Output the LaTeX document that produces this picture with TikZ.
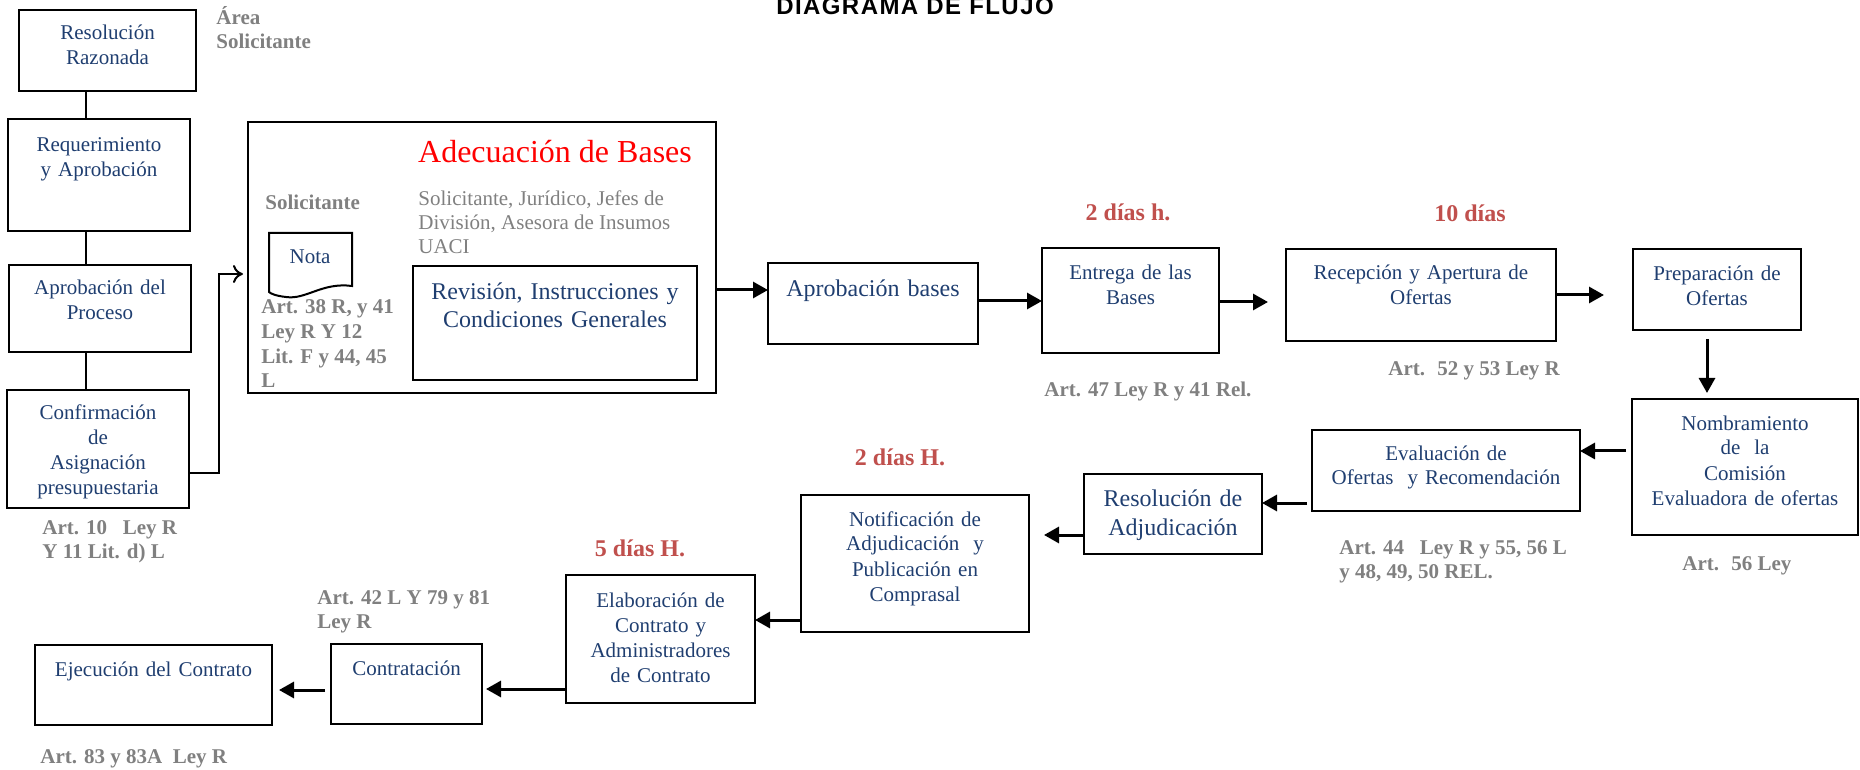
\documentclass[tikz,border=0pt]{standalone}
\usepackage{fontspec}
\setmainfont{Liberation Serif}
\newfontfamily\titlefont[LetterSpace=6]{Liberation Sans}
\usetikzlibrary{arrows.meta,positioning}

\definecolor{boxblue}{RGB}{31,62,112}
\definecolor{diasred}{RGB}{192,80,77}
\definecolor{artgray}{RGB}{128,128,128}

\begin{document}
\begin{tikzpicture}[%
    x=0.5pt,
    y=-0.5pt,
    box/.style={%
      draw,
      line width=0.95pt,
      inner sep=0pt,
      outer sep=0pt,
      anchor=north,
      align=center,
      text=boxblue,
      font=\fontsize{10.5}{12.5}\selectfont
    },
    bigbox/.style={box, font=\fontsize{12}{14.5}\selectfont},
    art/.style={anchor=base west, align=left, inner sep=0pt, text=artgray,
      font=\fontsize{10.5}{12.25}\selectfont\bfseries},
    dias/.style={anchor=base, inner sep=0pt, text=diasred,
      font=\fontsize{12}{14}\selectfont\bfseries},
    flow/.style={-{Triangle[length=7.5pt,width=8pt]}, line width=1.5pt},
    link/.style={line width=1pt}
  ]
    \useasboundingbox (0,0) rectangle (1860,770);
    \node[anchor=base, inner sep=0pt, font=\titlefont\fontsize{12}{14}\selectfont\bfseries] (titulo) at (915,15) {DIAGRAMA DE FLUJO};

    % area solicitante (multi-line labels sit on their last line)
    \coordinate (spine) at (86,0);
    \node[box, text width=88.5pt, text height=15pt, text depth=25.5pt] (resol) at (107.5,10) {Resolución\\Razonada};
    \node[box, text width=91pt, text height=16.5pt, text depth=39.5pt] (reque) at (99,119) {Requerimiento\\y Aprobación};
    \node[box, text width=91pt, text height=15pt, text depth=28.5pt] (aproc) at (100,265) {Aprobación del\\Proceso};
    \node[box, text width=91pt, text height=15pt, text depth=44pt] (confi) at (98,390) {Confirmación\\de\\Asignación\\presupuestaria};
    \node[art] (areasol) at (216,49) {Área\\Solicitante};
    \node[art] (art10) at (42,558.5) {Art. 10~~ Ley R\\Y 11 Lit. d) L};

    % adecuacion de bases
    \node[draw, line width=1.2pt, minimum width=234pt, minimum height=135.5pt, inner sep=0pt, outer sep=0pt] (adec) at (482,257.5) {};
    \node[anchor=base, inner sep=0pt, text=red, font=\fontsize{16}{18}\selectfont] (adectit) at (555,163) {Adecuación de Bases};
    \node[art] (solic) at (265,210) {Solicitante};
    \node[art, font=\fontsize{10.5}{12}\selectfont] (areas) at (418,254) {Solicitante, Jurídico, Jefes de\\División, Asesora de Insumos\\UACI};
    \draw[link] (269,233) -- (352,233) -- (352,286) .. controls (322,282) and (306,300) .. (286,297) .. controls (277,296) and (271,294) .. (269,292) -- cycle;
    \node[anchor=base, inner sep=0pt, text=boxblue, font=\fontsize{10.5}{12.5}\selectfont] (nota) at (310,264) {Nota};
    \node[art] (art38) at (261,387.5) {Art. 38 R, y 41\\Ley R Y 12\\Lit. F y 44, 45\\L};
    \node[bigbox, text width=142pt, text height=17pt, text depth=40pt, font=\fontsize{12}{13.5}\selectfont] (revis) at (555,266) {Revisión, Instrucciones y\\Condiciones Generales};

    % fila superior
    \node[bigbox, text width=105pt, text height=17pt, text depth=23.5pt] (bases) at (873,263) {Aprobación bases};
    \node[box, text width=88.5pt, text height=16pt, text depth=36.5pt] (entrega) at (1130.5,248) {Entrega de las\\Bases};
    \node[box, text width=135pt, text height=15.5pt, text depth=30.5pt] (recep) at (1421,249) {Recepción y Apertura de\\Ofertas};
    \node[box, text width=84pt, text height=16pt, text depth=24.5pt] (prepa) at (1717,249) {Preparación de\\Ofertas};

    % fila central
    \node[box, text width=113pt, text height=15.5pt, text depth=52.5pt] (nombra) at (1745,399) {Nombramiento\\de~ la\\Comisión\\Evaluadora de ofertas};
    \node[box, text width=134pt, text height=15pt, text depth=25.5pt] (evalua) at (1446,430) {Evaluación de\\Ofertas~ y Recomendación};
    \node[bigbox, text width=89pt, text height=16.5pt, text depth=23.5pt] (resadj) at (1173,474) {Resolución de\\Adjudicación};
    \node[box, text width=114pt, text height=15.5pt, text depth=53pt] (notif) at (915,495) {Notificación de\\Adjudicación~ y\\Publicación en\\Comprasal};

    % fila inferior
    \node[box, text width=94.5pt, text height=16pt, text depth=48pt] (elabo) at (660.5,575) {Elaboración de\\Contrato y\\Administradores\\de Contrato};
    \node[box, text width=75.5pt, text height=15.5pt, text depth=24.5pt] (contra) at (406.5,644) {Contratación};
    \node[box, text width=118.5pt, text height=15.5pt, text depth=24.5pt] (ejecu) at (153.5,645) {Ejecución del Contrato};

    % plazos y articulos
    \node[dias] (dias2h) at (1128,221) {2 días h.};
    \node[dias] (dias10) at (1470,222) {10 días};
    \node[dias] (dias2H) at (900,466) {2 días H.};
    \node[dias] (dias5H) at (640,556) {5 días H.};
    \node[art] (art47) at (1044,397) {Art. 47 Ley R y 41 Rel.};
    \node[art] (art52) at (1388,376) {Art.~ 52 y 53 Ley R};
    \node[art] (art56) at (1682,570) {Art.~ 56 Ley};
    \node[art] (art44) at (1339,578.5) {Art. 44~~ Ley R y 55, 56 L\\y 48, 49, 50 REL.};
    \node[art] (art42) at (317,628.5) {Art. 42 L Y 79 y 81\\Ley R};
    \node[art] (art83) at (40,763) {Art. 83 y 83A~ Ley R};

    % conectores
    \coordinate (codo) at (219,274);
    \draw[link] (resol.south -| spine) -- (reque.north -| spine);
    \draw[link] (reque.south -| spine) -- (aproc.north -| spine);
    \draw[link] (aproc.south -| spine) -- (confi.north -| spine);
    \draw[link, -{To[length=5pt,width=9pt]}, shorten >=2.5pt] (confi.east |- 0,473) -| (codo) -- (codo -| adec.west);
    \draw[flow] (adec.east |- 0,290) -- (bases.west |- 0,290);
    \draw[flow] (bases.east |- 0,301) -- (entrega.west |- 0,301);
    \draw[flow, shorten >=9pt] (entrega.east |- 0,302) -- (recep.west |- 0,302);
    \draw[flow, shorten >=14.5pt] (recep.east |- 0,295) -- (prepa.west |- 0,295);
    \draw[flow, shorten <=4.5pt, shorten >=3pt] (prepa.south -| 1707,0) -- (nombra.north -| 1707,0);
    \draw[flow, shorten <=3pt] (nombra.west |- 0,451) -- (evalua.east |- 0,451);
    \draw[flow, shorten <=2.5pt] (evalua.west |- 0,503) -- (resadj.east |- 0,503);
    \draw[flow, shorten >=7.5pt] (resadj.west |- 0,535) -- (notif.east |- 0,535);
    \draw[flow] (notif.west |- 0,620) -- (elabo.east |- 0,620);
    \draw[flow, shorten >=2pt] (elabo.west |- 0,689) -- (contra.east |- 0,689);
    \draw[flow, shorten <=3pt, shorten >=3.5pt] (contra.west |- 0,690) -- (ejecu.east |- 0,690);
\end{tikzpicture}
\end{document}
